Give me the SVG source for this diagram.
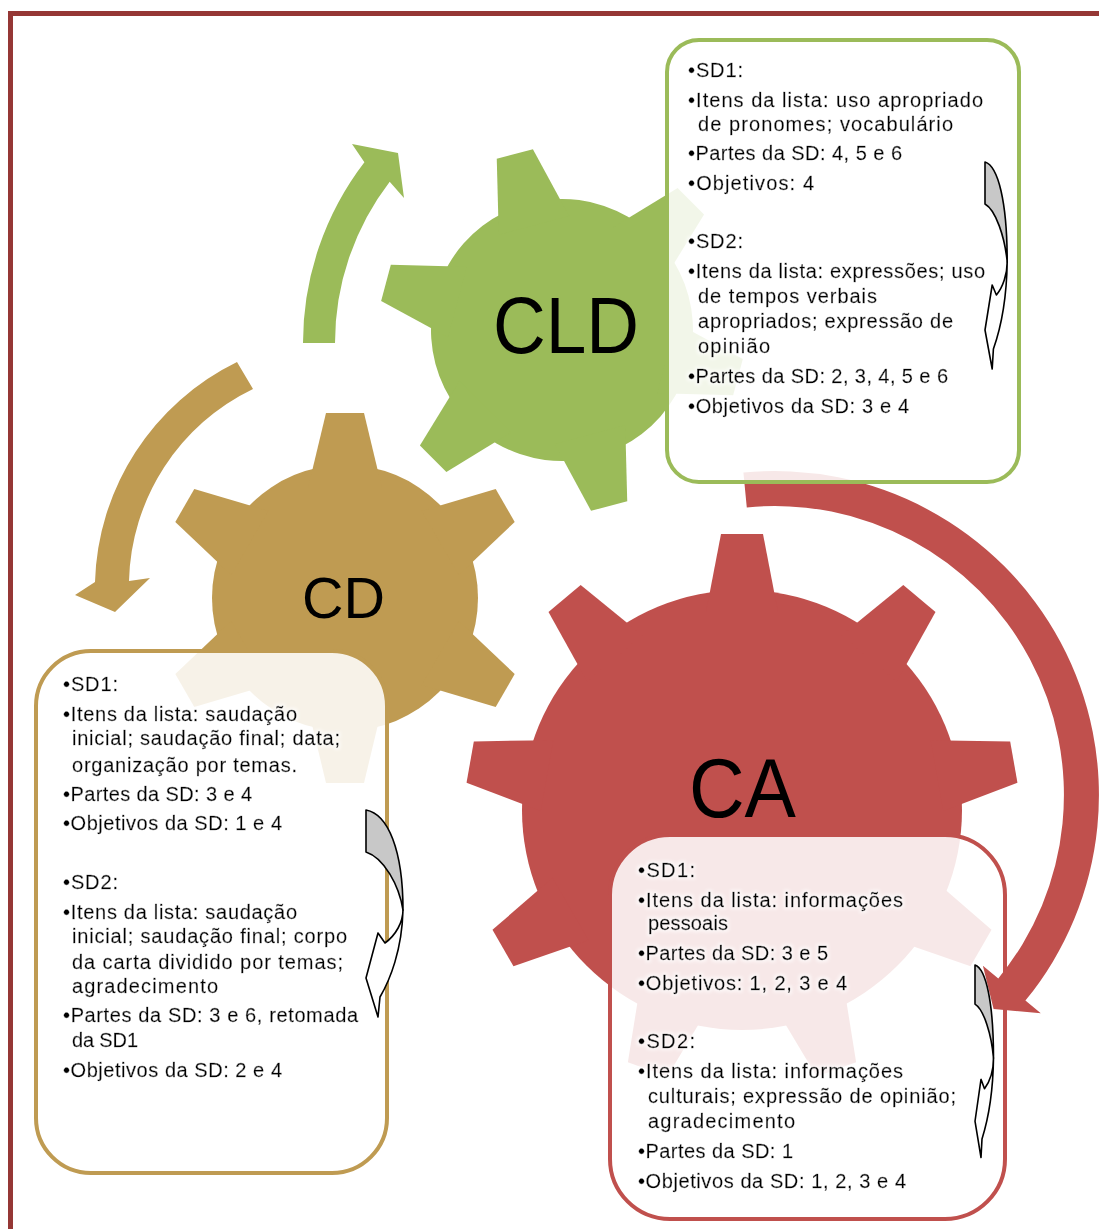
<svg xmlns="http://www.w3.org/2000/svg" width="1099" height="1229" viewBox="0 0 1099 1229">
  <style>
    .frame { fill: none; stroke: #953735; stroke-width: 5; }
    .gear-halo { fill: #fff; stroke: #fff; stroke-width: 7; stroke-linejoin: round; }
    .green { fill: #9bbb59; }
    .gold { fill: #bf9b52; }
    .red { fill: #c0504d; }
    .label { font-family: "Liberation Sans", Arial, sans-serif; fill: #000; }
    .panel { fill: #fff; fill-opacity: 0.87; stroke-width: 4; }
    .txt { font-family: "Liberation Sans", Arial, sans-serif; font-size: 20px; fill: #000;
           stroke: #000; stroke-width: 0.35; filter: url(#glow); }
    .turn-back { fill: #c8c8c8; stroke: #000; stroke-width: 1.6; stroke-linejoin: round; }
    .turn-front { fill: #fff; stroke: #000; stroke-width: 1.6; stroke-linejoin: round; }
  </style>
  <defs>
    <!-- soft white glow behind the list text -->
    <filter id="glow" x="-5%" y="-5%" width="110%" height="110%">
      <feMorphology in="SourceAlpha" operator="dilate" radius="2" result="wide"/>
      <feGaussianBlur in="wide" stdDeviation="1.5" result="soft"/>
      <feFlood flood-color="#fff" flood-opacity="0.6"/>
      <feComposite in2="soft" operator="in" result="halo"/>
      <feMerge><feMergeNode in="halo"/><feMergeNode in="SourceGraphic"/></feMerge>
    </filter>
    <!-- six-tooth gear, centred on the origin, first tooth pointing up -->
    <g id="gear6">
      <circle r="133"/>
      <path id="tooth6" d="M-37,-110 L-19,-185 L19,-185 L37,-110 Z"/>
      <use href="#tooth6" transform="rotate(60)"/>
      <use href="#tooth6" transform="rotate(120)"/>
      <use href="#tooth6" transform="rotate(180)"/>
      <use href="#tooth6" transform="rotate(240)"/>
      <use href="#tooth6" transform="rotate(300)"/>
    </g>
    <!-- nine-tooth gear -->
    <g id="gear9">
      <circle r="220"/>
      <path id="tooth9" d="M-36,-198 L-21,-276 L21,-276 L36,-198 Z"/>
      <use href="#tooth9" transform="rotate(40)"/>
      <use href="#tooth9" transform="rotate(80)"/>
      <use href="#tooth9" transform="rotate(120)"/>
      <use href="#tooth9" transform="rotate(160)"/>
      <use href="#tooth9" transform="rotate(200)"/>
      <use href="#tooth9" transform="rotate(240)"/>
      <use href="#tooth9" transform="rotate(280)"/>
      <use href="#tooth9" transform="rotate(320)"/>
    </g>
    <!-- small curved turn arrow used inside the panels -->
    <g id="turn">
      <path class="turn-back" vector-effect="non-scaling-stroke" d="M0,0 C22,4 37,40 37,100 C33,75 18,48 0,42 Z"/>
      <path class="turn-front" vector-effect="non-scaling-stroke" d="M37,100 C37,112 30,125 19,133 L12,123 L0,168 L12,207 L14,187 C24,170 36,140 37,100 Z"/>
    </g>
  </defs>

  <rect width="1099" height="1229" fill="#fff"/>
  <rect class="frame" x="10.5" y="13.5" width="1095" height="1225"/>

  <!-- gears -->
  <g id="gear-cd">
    <use href="#gear6" class="gear-halo" transform="translate(345,598)"/>
    <use href="#gear6" class="gold" transform="translate(345,598)"/>
    <text class="label" x="302" y="618" font-size="58" textLength="83" lengthAdjust="spacingAndGlyphs">CD</text>
  </g>
  <g id="gear-cld">
    <use href="#gear6" class="gear-halo" transform="translate(562,330) rotate(-15) scale(0.985)"/>
    <use href="#gear6" class="green" transform="translate(562,330) rotate(-15) scale(0.985)"/>
    <text class="label" x="493" y="353" font-size="79" textLength="146" lengthAdjust="spacingAndGlyphs">CLD</text>
  </g>
  <g id="gear-ca">
    <use href="#gear9" class="gear-halo" transform="translate(742,810)"/>
    <use href="#gear9" class="red" transform="translate(742,810)"/>
    <text class="label" x="689" y="817" font-size="84" textLength="107" lengthAdjust="spacingAndGlyphs">CA</text>
  </g>

  <!-- CD panel -->
  <g id="panel-cd">
    <rect class="panel" x="36" y="651" width="351" height="522" rx="55" stroke="#bf9b52"/>
    <g class="txt">
      <text x="63" y="691" textLength="55">•SD1:</text>
      <text x="63" y="721" textLength="234">•Itens da lista: saudação</text>
      <text x="72" y="745" textLength="268">inicial; saudação final; data;</text>
      <text x="72" y="772" textLength="225">organização por temas.</text>
      <text x="63" y="801" textLength="189">•Partes da SD: 3 e 4</text>
      <text x="63" y="830" textLength="219">•Objetivos da SD: 1 e 4</text>
      <text x="63" y="889" textLength="55">•SD2:</text>
      <text x="63" y="919" textLength="234">•Itens da lista: saudação</text>
      <text x="72" y="943" textLength="275">inicial; saudação final; corpo</text>
      <text x="72" y="969" textLength="271">da carta dividido por temas;</text>
      <text x="72" y="993" textLength="146">agradecimento</text>
      <text x="63" y="1022" textLength="295">•Partes da SD: 3 e 6, retomada</text>
      <text x="72" y="1047" textLength="66">da SD1</text>
      <text x="63" y="1077" textLength="219">•Objetivos da SD: 2 e 4</text>
    </g>
  </g>

  <!-- CA panel -->
  <g id="panel-ca">
    <rect class="panel" x="610" y="835" width="395" height="384" rx="60" stroke="#c0504d"/>
    <g class="txt">
      <text x="638" y="877" textLength="57">•SD1:</text>
      <text x="638" y="907" textLength="265">•Itens da lista: informações</text>
      <text x="648" y="930" textLength="80">pessoais</text>
      <text x="638" y="960" textLength="190">•Partes da SD: 3 e 5</text>
      <text x="638" y="990" textLength="209">•Objetivos: 1, 2, 3 e 4</text>
      <text x="638" y="1048" textLength="57">•SD2:</text>
      <text x="638" y="1078" textLength="265">•Itens da lista: informações</text>
      <text x="648" y="1103" textLength="308">culturais; expressão de opinião;</text>
      <text x="648" y="1128" textLength="147">agradecimento</text>
      <text x="638" y="1158" textLength="155">•Partes da SD: 1</text>
      <text x="638" y="1188" textLength="268">•Objetivos da SD: 1, 2, 3 e 4</text>
    </g>
  </g>

  <!-- cycle arrows between the gears -->
  <g id="connectors">
    <path class="green" d="M303,343 A297,297 0 0 1 364.4,162.2 L352,144 L398,153 L404,198 L389.7,181.7 A265,265 0 0 0 335,343 Z"/>
    <path class="gold" d="M237,362 A253,253 0 0 0 95,582 L75,595 L115,612 L150,578 L129,581 A219,219 0 0 1 253,389 Z"/>
    <path class="red" d="M743.4,472.6 A324,324 0 0 1 1025.4,1000.6 L1040.8,1013.3 L993.6,1009.1 L982.9,965.7 L998.3,978.4 A289,289 0 0 0 746.8,507.4 Z"/>
  </g>

  <!-- CLD panel -->
  <g id="panel-cld">
    <rect class="panel" x="667" y="40" width="352" height="442" rx="32" stroke="#9bbb59"/>
    <g class="txt">
      <text x="688" y="77" textLength="55">•SD1:</text>
      <text x="688" y="107" textLength="295">•Itens da lista: uso apropriado</text>
      <text x="698" y="131" textLength="255">de pronomes; vocabulário</text>
      <text x="688" y="160" textLength="214">•Partes da SD: 4, 5 e 6</text>
      <text x="688" y="190" textLength="126">•Objetivos: 4</text>
      <text x="688" y="248" textLength="55">•SD2:</text>
      <text x="688" y="278" textLength="297">•Itens da lista: expressões; uso</text>
      <text x="698" y="303" textLength="179">de tempos verbais</text>
      <text x="698" y="328" textLength="255">apropriados; expressão de</text>
      <text x="698" y="353" textLength="72">opinião</text>
      <text x="688" y="383" textLength="260">•Partes da SD: 2, 3, 4, 5 e 6</text>
      <text x="688" y="413" textLength="221">•Objetivos da SD: 3 e 4</text>
    </g>
  </g>

  <!-- turn arrows beside each panel's two lists -->
  <g id="turn-arrows">
    <use href="#turn" transform="translate(985,162) scale(0.6,1)"/>
    <use href="#turn" transform="translate(366,810)"/>
    <use href="#turn" transform="translate(975,965) scale(0.5,0.93)"/>
  </g>
</svg>
